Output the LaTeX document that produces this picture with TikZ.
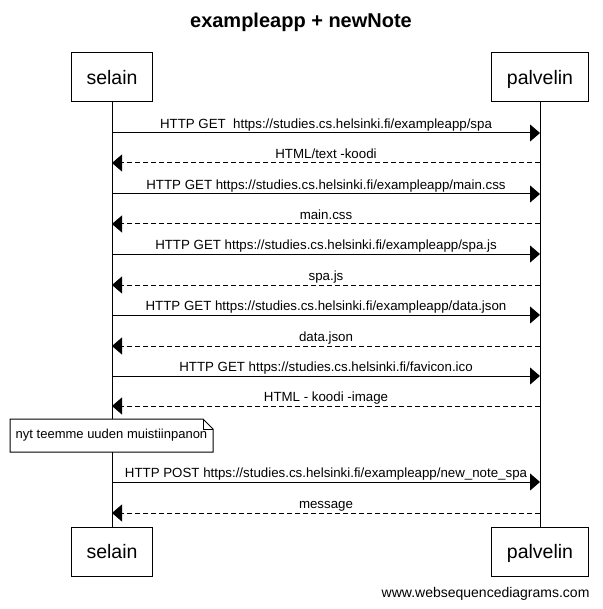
\documentclass[tikz,border=0pt]{standalone}
\usepackage{fontspec}
\setmainfont{Liberation Sans}
\usetikzlibrary{arrows.meta}
\tikzset{
  actor/.style={draw, fill=white, line width=1pt, minimum height=49pt, inner xsep=15pt, inner ysep=0pt, text height=14pt, text depth=0pt, font=\fontsize{19.5}{22}\selectfont},
  msg/.style={line width=1pt, -{Triangle[length=10pt,width=17pt]}},
  reply/.style={msg, dash pattern=on 5pt off 3pt},
  lbl/.style={midway, anchor=base, yshift=4.5pt, inner sep=0pt, font=\fontsize{13.3}{15}\selectfont},
  notebox/.style={fill=white, minimum width=203pt, minimum height=33pt, inner sep=0pt, outer sep=0pt, font=\fontsize{13}{15}\selectfont}
}
\begin{document}
\begin{tikzpicture}[x=1pt, y=-1pt]
\useasboundingbox (0,0) rectangle (602,609);
\node[font=\fontsize{20}{24}\selectfont\bfseries, anchor=base] (title) at (301,28) {exampleapp + newNote};
% lifelines
\coordinate (seltopc) at (112,102);
\coordinate (selbotc) at (112,527);
\coordinate (paltopc) at (540,102);
\coordinate (palbotc) at (540,527);
\draw[line width=1pt] (seltopc) -- (selbotc);
\draw[line width=1pt] (paltopc) -- (palbotc);
\node[actor] (seltop) at (112,77.5) {selain};
\node[actor] (paltop) at (540,77.5) {palvelin};
\node[actor] (selbot) at (112,551.5) {selain};
\node[actor] (palbot) at (540,551.5) {palvelin};
% messages
\coordinate (sel1) at (112,133); \coordinate (pal1) at (540,133);
\draw[msg] (sel1) -- (pal1) node[lbl] {HTTP GET\ \ https://studies.cs.helsinki.fi/exampleapp/spa};
\coordinate (sel2) at (112,163); \coordinate (pal2) at (540,163);
\draw[reply] (pal2) -- (sel2) node[lbl] {HTML/text -koodi};
\coordinate (sel3) at (112,194); \coordinate (pal3) at (540,194);
\draw[msg] (sel3) -- (pal3) node[lbl] {HTTP GET https://studies.cs.helsinki.fi/exampleapp/main.css};
\coordinate (sel4) at (112,224); \coordinate (pal4) at (540,224);
\draw[reply] (pal4) -- (sel4) node[lbl] {main.css};
\coordinate (sel5) at (112,254); \coordinate (pal5) at (540,254);
\draw[msg] (sel5) -- (pal5) node[lbl] {HTTP GET https://studies.cs.helsinki.fi/exampleapp/spa.js};
\coordinate (sel6) at (112,285); \coordinate (pal6) at (540,285);
\draw[reply] (pal6) -- (sel6) node[lbl] {spa.js};
\coordinate (sel7) at (112,315); \coordinate (pal7) at (540,315);
\draw[msg] (sel7) -- (pal7) node[lbl] {HTTP GET https://studies.cs.helsinki.fi/exampleapp/data.json};
\coordinate (sel8) at (112,346); \coordinate (pal8) at (540,346);
\draw[reply] (pal8) -- (sel8) node[lbl] {data.json};
\coordinate (sel9) at (112,376); \coordinate (pal9) at (540,376);
\draw[msg] (sel9) -- (pal9) node[lbl] {HTTP GET https://studies.cs.helsinki.fi/favicon.ico};
\coordinate (sel10) at (112,406); \coordinate (pal10) at (540,406);
\draw[reply] (pal10) -- (sel10) node[lbl] {HTML - koodi -image};
% note
\node[notebox] (note) at (111.5,435.5) {nyt teemme uuden muistiinpanon};
\draw[line width=1pt] (note.south west) -- (note.north west) -- ([xshift=-10pt]note.north east) -- ([yshift=-10pt]note.north east) -- (note.south east) -- cycle;
\draw[line width=0.6pt] ([xshift=-10pt]note.north east) |- ([yshift=-10pt]note.north east);
\coordinate (sel11) at (112,482); \coordinate (pal11) at (540,482);
\draw[msg] (sel11) -- (pal11) node[lbl] {HTTP POST https://studies.cs.helsinki.fi/exampleapp/new\_note\_spa};
\coordinate (sel12) at (112,513); \coordinate (pal12) at (540,513);
\draw[reply] (pal12) -- (sel12) node[lbl] {message};
\node[font=\fontsize{14}{16}\selectfont, anchor=base east] (credit) at (593,597) {www.websequencediagrams.com};
\end{tikzpicture}
\end{document}
